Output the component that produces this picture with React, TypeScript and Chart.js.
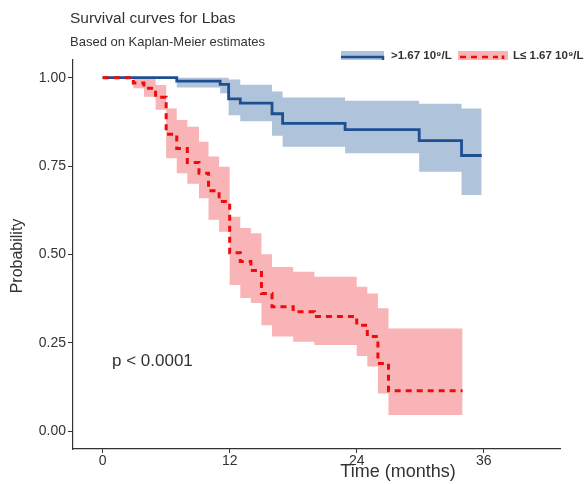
import React, { useEffect, useRef } from "react";
import { Chart, registerables } from "chart.js";

Chart.register(...registerables);

// ---- Data ----
const xTicks = [0, 12, 24, 36];
const yTicks = [0, 0.25, 0.5, 0.75, 1];

// Group ">1.67 10⁹/L"
const blueTimes = [0, 7.0, 11.1, 11.9, 13.0, 16.0, 17.0, 22.9, 29.9, 33.9, 35.8];
const blueSurv = [1, 0.99, 0.981, 0.94, 0.928, 0.898, 0.871, 0.853, 0.822, 0.78, 0.78];
const blueLower = [1, 0.972, 0.956, 0.894, 0.877, 0.836, 0.805, 0.786, 0.734, 0.668, 0.668];
const blueUpper = [1, 1.0, 1.0, 0.995, 0.98, 0.961, 0.944, 0.935, 0.926, 0.913, 0.913];

// Group "L≤ 1.67 10⁹/L"
const redTimes = [0, 2.9, 3.9, 5.0, 6.0, 7.0, 8.0, 9.1, 10.0, 11.0, 12.0, 13.0, 14.0, 15.0, 16.0, 18.0, 20.0, 24.0, 25.0, 26.0, 27.0, 34.0];
const redSurv = [1, 0.985, 0.97, 0.945, 0.84, 0.8, 0.76, 0.73, 0.68, 0.65, 0.505, 0.48, 0.455, 0.39, 0.352, 0.338, 0.325, 0.3, 0.268, 0.192, 0.115, 0.115];
const redLower = [1, 0.97, 0.946, 0.909, 0.772, 0.73, 0.7, 0.659, 0.598, 0.564, 0.414, 0.377, 0.363, 0.3, 0.268, 0.253, 0.244, 0.213, 0.183, 0.107, 0.046, 0.046];
const redUpper = [1, 1, 1, 0.979, 0.913, 0.88, 0.861, 0.819, 0.777, 0.748, 0.607, 0.575, 0.56, 0.501, 0.465, 0.451, 0.437, 0.409, 0.39, 0.348, 0.291, 0.291];

const titleText = "Survival curves for Lbas";
const subtitleText = "Based on Kaplan-Meier estimates";
const legendLabels = [">1.67 10\u2079/L", "L\u2264 1.67 10\u2079/L"];
const pValueText = "p < 0.0001";
const xTitle = "Time (months)";
const yTitle = "Probability";

const BLUE = "#1d4f91";
const BLUE_BAND = "#afc4da";
const RED = "#f00a0a";
const RED_BAND = "#f8b4b6";
const TEXT = "#333333";
const FONT = "'Liberation Sans', Arial, sans-serif";

const pts = (xs: number[], ys: number[]) => xs.map((x, i) => ({ x, y: ys[i] }));

const textPlugin = {
  id: "customText",
  afterDraw(chart: any) {
    const ctx = chart.ctx;
    ctx.save();
    ctx.fillStyle = TEXT;
    ctx.textBaseline = "middle";
    ctx.textAlign = "left";
    // title & subtitle
    ctx.font = `15.5px ${FONT}`;
    ctx.fillText(titleText, 70, 19);
    ctx.font = `13px ${FONT}`;
    ctx.fillText(subtitleText, 70, 42);

    // legend
    ctx.fillStyle = BLUE_BAND;
    ctx.fillRect(341, 51, 43, 9);
    ctx.strokeStyle = BLUE;
    ctx.lineWidth = 2.5;
    ctx.beginPath();
    ctx.moveTo(341, 57);
    ctx.lineTo(383, 57);
    ctx.lineTo(383, 60);
    ctx.stroke();
    ctx.fillStyle = RED_BAND;
    ctx.fillRect(458, 51, 50, 9);
    ctx.strokeStyle = RED;
    ctx.lineWidth = 2.5;
    ctx.setLineDash([6, 5]);
    ctx.beginPath();
    ctx.moveTo(460, 57);
    ctx.lineTo(498, 57);
    ctx.stroke();
    ctx.setLineDash([]);
    ctx.beginPath();
    ctx.moveTo(503, 55.5);
    ctx.lineTo(503, 59);
    ctx.stroke();
    ctx.fillStyle = TEXT;
    ctx.font = `bold 11.5px ${FONT}`;
    ctx.fillText(legendLabels[0], 391, 56);
    ctx.fillText(legendLabels[1], 513, 56);

    // p-value
    ctx.font = `17px ${FONT}`;
    ctx.fillText(pValueText, 112, 361);

    // x title
    ctx.textAlign = "center";
    ctx.font = `18px ${FONT}`;
    ctx.fillText(xTitle, 398, 472);

    // y title
    ctx.translate(18, 256);
    ctx.rotate(-Math.PI / 2);
    ctx.font = `16px ${FONT}`;
    ctx.fillText(yTitle, 0, 0);
    ctx.restore();
  },
};

export default function App() {
  const ref = useRef<HTMLCanvasElement | null>(null);
  useEffect(() => {
    if (!ref.current) return;
    const chart = new Chart(ref.current, {
      type: "line",
      data: {
        datasets: [
          {
            label: legendLabels[1],
            data: pts(redTimes, redSurv),
            borderColor: RED,
            borderWidth: 3,
            borderDash: [6, 5],
            stepped: "before",
            pointRadius: 0,
            fill: false,
          },
          {
            label: legendLabels[0],
            data: pts(blueTimes, blueSurv),
            borderColor: BLUE,
            borderWidth: 2.8,
            stepped: "before",
            pointRadius: 0,
            fill: false,
          },
          {
            label: "blueUpper",
            data: pts(blueTimes, blueUpper),
            borderWidth: 0,
            borderColor: "rgba(0,0,0,0)",
            backgroundColor: BLUE_BAND,
            stepped: "before",
            pointRadius: 0,
            fill: "+1",
          },
          {
            label: "blueLower",
            data: pts(blueTimes, blueLower),
            borderWidth: 0,
            borderColor: "rgba(0,0,0,0)",
            stepped: "before",
            pointRadius: 0,
            fill: false,
          },
          {
            label: "redUpper",
            data: pts(redTimes, redUpper),
            borderWidth: 0,
            borderColor: "rgba(0,0,0,0)",
            backgroundColor: RED_BAND,
            stepped: "before",
            pointRadius: 0,
            fill: "+1",
          },
          {
            label: "redLower",
            data: pts(redTimes, redLower),
            borderWidth: 0,
            borderColor: "rgba(0,0,0,0)",
            stepped: "before",
            pointRadius: 0,
            fill: false,
          },
        ],
      },
      options: {
        animation: false,
        responsive: false,
        layout: { padding: { top: 60, right: 25, left: 0, bottom: 0 } },
        plugins: {
          legend: { display: false },
          tooltip: { enabled: false },
          title: { display: false },
        },
        scales: {
          x: {
            type: "linear",
            min: -2.8,
            max: 43.2,
            afterBuildTicks: (s: any) => {
              s.ticks = xTicks.map((v) => ({ value: v }));
            },
            afterFit: (s: any) => {
              s.height = 35;
            },
            ticks: {
              color: TEXT,
              font: { family: FONT, size: 14 },
              padding: 0,
              maxRotation: 0,
            },
            grid: { drawOnChartArea: false, drawTicks: true, tickLength: 4, color: TEXT },
            border: { display: true, color: TEXT, width: 1.2 },
          },
          y: {
            type: "linear",
            min: -0.05,
            max: 1.05,
            afterBuildTicks: (s: any) => {
              s.ticks = yTicks.map((v) => ({ value: v }));
            },
            afterFit: (s: any) => {
              s.width = 73;
            },
            ticks: {
              color: TEXT,
              font: { family: FONT, size: 14 },
              padding: 2,
              callback: (v: any) => Number(v).toFixed(2),
            },
            grid: { drawOnChartArea: false, drawTicks: true, tickLength: 5, color: TEXT },
            border: { display: true, color: TEXT, width: 1.2 },
          },
        },
      },
      plugins: [textPlugin],
    });
    return () => chart.destroy();
  }, []);
  return (
    <div style={{ position: "absolute", left: 0, top: 0, width: 585, height: 484, background: "#fff" }}>
      <canvas ref={ref} width={585} height={484} style={{ display: "block", width: 585, height: 484 }} />
    </div>
  );
}
